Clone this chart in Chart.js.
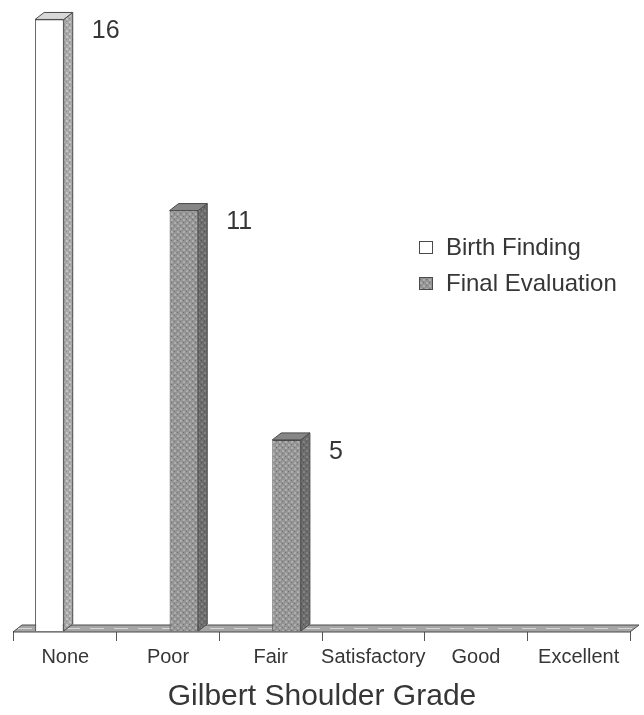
<!DOCTYPE html>
<html>
<head>
<meta charset="utf-8">
<script src="https://cdn.jsdelivr.net/npm/chart.js@4/dist/chart.umd.min.js"></script>
<style>
  html, body { margin: 0; padding: 0; background: #fff; }
  #wrap { position: relative; width: 644px; height: 715px; }
</style>
</head>
<body>
<div id="wrap"><canvas id="chart_canvas" width="644" height="715"></canvas></div>
<script>
/* shoulder grade at birth vs final evaluation, drawn as 3d-ish bars */

const grades = ['None', 'Poor', 'Fair', 'Satisfactory', 'Good', 'Excellent'];
const birth_finding = [16, 0, 0, 0, 0, 0];
const final_evaluation = [0, 11, 5, 0, 0, 0];
const series_names = ['Birth Finding', 'Final Evaluation'];

const FONT = 'Arial, "Liberation Sans", sans-serif';
const TEXT = '#363636';
const EDGE = '#4a4a4a';
const DX = 9, DY = 7;   // depth of the bars and floor

// dotted fill like the old print style
function dotted ( base, light, dark )
{
    const t = document.createElement('canvas');
    t.width = 6; t.height = 6;
    const c = t.getContext('2d');
    c.fillStyle = base;  c.fillRect(0, 0, 6, 6);
    c.fillStyle = light; c.fillRect(0, 0, 2, 2); c.fillRect(3, 3, 2, 2);
    c.fillStyle = dark;  c.fillRect(3, 0, 1, 1); c.fillRect(0, 3, 1, 1);
    return c.createPattern(t, 'repeat');
}

const front_fill = dotted('#949494', '#aeaeae', '#707070');
const side_fill = dotted('#6c6c6c', '#828282', '#525252');
const white_side = dotted('#a8a8a8', '#c4c4c4', '#888888');

function poly ( ctx, pts, fill )
{
    ctx.beginPath();
    ctx.moveTo(pts[0][0], pts[0][1]);
    for ( let ii = 1; ii < pts.length; ++ii ) ctx.lineTo(pts[ii][0], pts[ii][1]);
    ctx.closePath();
    ctx.fillStyle = fill;
    ctx.fill();
    ctx.strokeStyle = EDGE;
    ctx.lineWidth = 1;
    ctx.stroke();
}

// floor strip under the bars
const floor = {
    id: 'floor',
    beforeDatasetsDraw ( chart )
    {
        const { ctx, chartArea } = chart;
        const b = chart.scales.y.getPixelForValue(0) + 1;
        ctx.save();
        poly(ctx, [[chartArea.left - 1, b], [chartArea.right, b],
                   [chartArea.right + DX, b - DY], [chartArea.left - 1 + DX, b - DY]], '#a6a6a6');
        ctx.strokeStyle = '#d6d6d6';
        ctx.setLineDash([14, 10]);
        ctx.beginPath();
        ctx.moveTo(chartArea.left + 4, b - 3.5);
        ctx.lineTo(chartArea.right + 4, b - 3.5);
        ctx.stroke();
        ctx.restore();
    }
};

// side + top faces and the value labels
const depth = {
    id: 'depth',
    afterDatasetsDraw ( chart )
    {
        const ctx = chart.ctx;
        ctx.save();
        chart.data.datasets.forEach((ds, di) => {
            const meta = chart.getDatasetMeta(di);
            meta.data.forEach((bar, ii) => {
                const v = ds.data[ii];
                if ( !v ) return;
                const { x, y, base, width } = bar.getProps(['x', 'y', 'base', 'width'], true);
                const x0 = x - width / 2, x1 = x + width / 2;
                poly(ctx, [[x1, y], [x1 + DX, y - DY], [x1 + DX, base - DY], [x1, base]],
                     di === 0 ? white_side : side_fill);
                poly(ctx, [[x0, y], [x1, y], [x1 + DX, y - DY], [x0 + DX, y - DY]],
                     di === 0 ? '#d8d8d8' : '#868686');

                ctx.fillStyle = TEXT;
                ctx.font = '25px ' + FONT;
                ctx.textAlign = 'left';
                ctx.textBaseline = 'middle';
                ctx.fillText(String(v), x1 + DX + 19, y + 12);
            });
        });
        ctx.restore();
    }
};

// legend inside the plot, right side
const side_legend = {
    id: 'side_legend',
    afterDraw ( chart )
    {
        const ctx = chart.ctx;
        ctx.save();
        ctx.font = '24px ' + FONT;
        ctx.textBaseline = 'middle';
        ctx.textAlign = 'left';
        chart.data.datasets.forEach((ds, di) => {
            const cy = 248 + di * 36;
            ctx.fillStyle = di === 0 ? '#ffffff' : front_fill;
            ctx.fillRect(419.5, cy - 6.5, 13, 12);
            ctx.strokeStyle = EDGE;
            ctx.lineWidth = 1;
            ctx.strokeRect(419.5, cy - 6.5, 13, 12);
            ctx.fillStyle = TEXT;
            ctx.fillText(ds.label, 446, cy);
        });
        ctx.restore();
    }
};

const data = {
    labels: grades,
    datasets: [
        {
            label: series_names[0],
            data: birth_finding,
            backgroundColor: '#ffffff',
            borderColor: EDGE,
            borderWidth: 1,
            categoryPercentage: 0.62,
            barPercentage: 0.9,
        },
        {
            label: series_names[1],
            data: final_evaluation,
            backgroundColor: front_fill,
            borderColor: EDGE,
            borderWidth: 1,
            categoryPercentage: 0.62,
            barPercentage: 0.9,
        }
    ]
};

const options = {
    responsive: false,
    animation: false,
    layout: { padding: { left: 14, right: 14, top: 8, bottom: 0 } },
    scales:
    {
        x: {
            grid: { offset: true, drawOnChartArea: false, drawTicks: true, tickLength: 10, color: '#555' },
            border: { display: false },
            ticks: { color: TEXT, font: { family: FONT, size: 20 }, padding: 4, maxRotation: 0, autoSkip: false },
            title: { display: true, text: 'Gilbert Shoulder Grade', color: TEXT,
                     font: { family: FONT, size: 30 }, padding: { top: 0, bottom: 0 } },
            afterFit: (s) => { s.height = 84; }
        },
        y: { display: false, min: 0, max: 16.3 }
    },
    plugins:
    {
        legend: { display: false },
        tooltip: { enabled: false }
    }
};

const chart = new Chart(document.getElementById('chart_canvas'),
    { type: 'bar', data: data, options: options, plugins: [floor, depth, side_legend] });
</script>
</body>
</html>
